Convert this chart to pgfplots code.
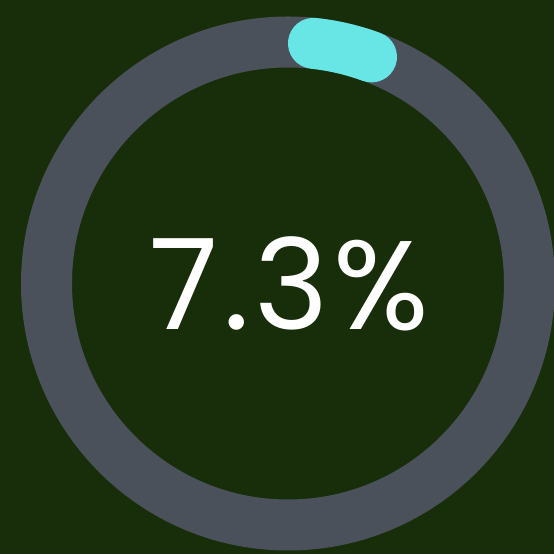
\documentclass[border=0pt]{standalone}
\usepackage{pgfplots}
\pgfplotsset{compat=1.18}
\usepackage{fontspec}
\newfontfamily\pop[LetterSpace=4]{Poppins}
\definecolor{bg}{HTML}{182D09}
\definecolor{track}{HTML}{4A515B}
\definecolor{prog}{HTML}{68E6E6}
\begin{document}
\begin{tikzpicture}
\def\pct{7.3}
\pgfmathsetmacro{\cx}{288}
\pgfmathsetmacro{\cy}{270.5}
\pgfmathsetmacro{\rr}{241.5}
\pgfmathsetmacro{\lw}{51}
% cap angle (half line width along arc)
\pgfmathsetmacro{\capang}{(\lw/2)/\rr*180/pi}
\pgfmathsetmacro{\total}{\pct/100*360}
\pgfmathsetmacro{\sa}{90-\capang}
\pgfmathsetmacro{\ea}{90-\total+\capang}
\begin{axis}[scale only axis, width=554pt, height=554pt,
  xmin=0, xmax=554, ymin=0, ymax=554, axis lines=none, clip=true]
\fill[bg] (axis cs:0,0) rectangle (axis cs:554,554);
\draw[track, line width=\lw pt] (axis cs:\cx,\cy) circle[radius=\rr];
\draw[prog, line width=\lw pt, line cap=round]
  (axis cs:{\cx+\rr*cos(\sa)},{\cy+\rr*sin(\sa)}) arc[start angle=\sa, end angle=\ea, radius=\rr pt];
\node[white, anchor=base west, font=\pop\fontsize{126}{126}\selectfont, inner sep=0pt] at (axis cs:149,224) {7.3\%};
\end{axis}
\end{tikzpicture}
\end{document}
